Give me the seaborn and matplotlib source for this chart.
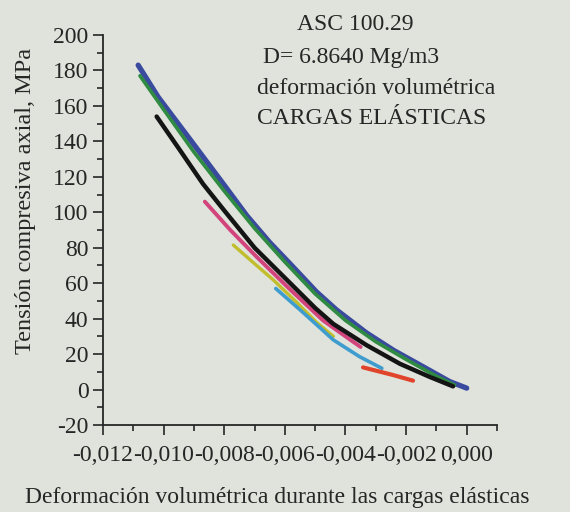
import matplotlib
matplotlib.use("Agg")
import matplotlib.pyplot as plt
from matplotlib.ticker import MultipleLocator, FuncFormatter
import seaborn as sns
import pandas as pd

# ---- data ----
blue_x = [-0.01084, -0.01018, -0.00908, -0.00803, -0.00725, -0.00650, -0.00583, -0.00495, -0.00430, -0.00331, -0.00240, -0.00166, -0.00056, 0.0]
blue_y = [183, 165, 140, 116, 98, 83, 71, 55, 45, 32, 22, 15, 4.5, 0.8]

green_x = [-0.01078, -0.0100, -0.0090, -0.0080, -0.0070, -0.0060, -0.0050, -0.0040, -0.0030, -0.0020, -0.0010, -0.0004]
green_y = [177, 158, 134, 112, 91, 72, 54, 39, 27, 17, 7.5, 2.5]

black_x = [-0.01023, -0.0095, -0.0087, -0.0080, -0.0070, -0.0060, -0.0050, -0.0044, -0.0033, -0.0022, -0.0012, -0.00045]
black_y = [154, 136, 116, 101, 80, 63, 46, 37, 25, 14.5, 7, 1.8]

magenta_x = [-0.00864, -0.0078, -0.00694, -0.0058, -0.00474, -0.0040, -0.0035]
magenta_y = [106, 90, 75, 56, 39, 30, 24]

yellow_x = [-0.0077, -0.0070, -0.00639, -0.0056, -0.00496, -0.0044]
yellow_y = [81.5, 71, 62, 49, 38, 30]

cyan_x = [-0.0063, -0.0055, -0.00485, -0.0044, -0.00353, -0.0028]
cyan_y = [57, 45, 35, 28, 18.5, 12]

red_x = [-0.00342, -0.00243, -0.00177]
red_y = [12.5, 8.2, 5]

x_ticks = [-0.012, -0.010, -0.008, -0.006, -0.004, -0.002, 0.000]
y_ticks = [-20, 0, 20, 40, 60, 80, 100, 120, 140, 160, 180, 200]

annot_lines = ["ASC 100.29", "D= 6.8640 Mg/m3", "deformación volumétrica", "CARGAS ELÁSTICAS"]

# ---- styling ----
bg = "#dfe3db"
ink = "#262626"
sns.set_theme(style="ticks")
plt.rcParams["font.family"] = ["Liberation Serif", "DejaVu Serif"]
plt.rcParams["axes.unicode_minus"] = False
plt.rcParams["text.color"] = ink
plt.rcParams["axes.labelcolor"] = ink
plt.rcParams["xtick.color"] = ink
plt.rcParams["ytick.color"] = ink

fig = plt.figure(figsize=(5.70, 5.12), dpi=100, facecolor=bg)
ax = fig.add_axes([103 / 570, 1 - 425 / 512, 394 / 570, 390 / 512])
ax.set_facecolor(bg)

series = [
    ("blue", blue_x, blue_y, "#3a4a9e", 3.8),
    ("green", green_x, green_y, "#2f8a42", 2.6),
    ("magenta", magenta_x, magenta_y, "#d2447c", 2.8),
    ("yellow", yellow_x, yellow_y, "#c2bd2c", 2.4),
    ("cyan", cyan_x, cyan_y, "#3f9ccf", 2.6),
    ("red", red_x, red_y, "#e0452c", 3.0),
    ("black", black_x, black_y, "#141414", 3.2),
]
for name, xs, ys, col, lw in series:
    df = pd.DataFrame({"x": xs, "y": ys})
    sns.lineplot(data=df, x="x", y="y", sort=False, estimator=None,
                 color=col, linewidth=lw, ax=ax, legend=False)

ax.set_xlim(-0.012, 0.001)
ax.set_ylim(-20, 200)
ax.set_xticks(x_ticks)
ax.set_yticks(y_ticks)
ax.xaxis.set_minor_locator(MultipleLocator(0.001))
ax.yaxis.set_minor_locator(MultipleLocator(10))
ax.xaxis.set_major_formatter(FuncFormatter(lambda v, p: f"{v:.3f}".replace(".", ",").replace("-0,000", "0,000")))
ax.tick_params(axis="both", which="major", length=7.5, width=1.2, labelsize=17, direction="out")
ax.tick_params(axis="both", which="minor", length=4, width=1.2, direction="out")
ax.tick_params(axis="x", which="major", pad=7)
ax.tick_params(axis="y", which="major", pad=3)
for side in ["top", "right"]:
    ax.spines[side].set_visible(False)
for side in ["left", "bottom"]:
    ax.spines[side].set_linewidth(1.3)
    ax.spines[side].set_color(ink)

ax.set_xlabel("Deformación volumétrica durante las cargas elásticas", fontsize=17)
ax.set_ylabel("Tensión compresiva axial, MPa", fontsize=17.5)
ax.xaxis.set_label_coords(0.4416, -0.16)
ax.yaxis.set_label_coords(-0.17, 0.574)

annot_pos = [(297, 25), (263, 57), (257, 88), (257, 118)]
for txt, (px, py) in zip(annot_lines, annot_pos):
    fig.text(px / 570, 1 - py / 512, txt, ha="left", va="center", fontsize=17, color=ink)

fig.savefig("out.png", dpi=100, facecolor=bg)
